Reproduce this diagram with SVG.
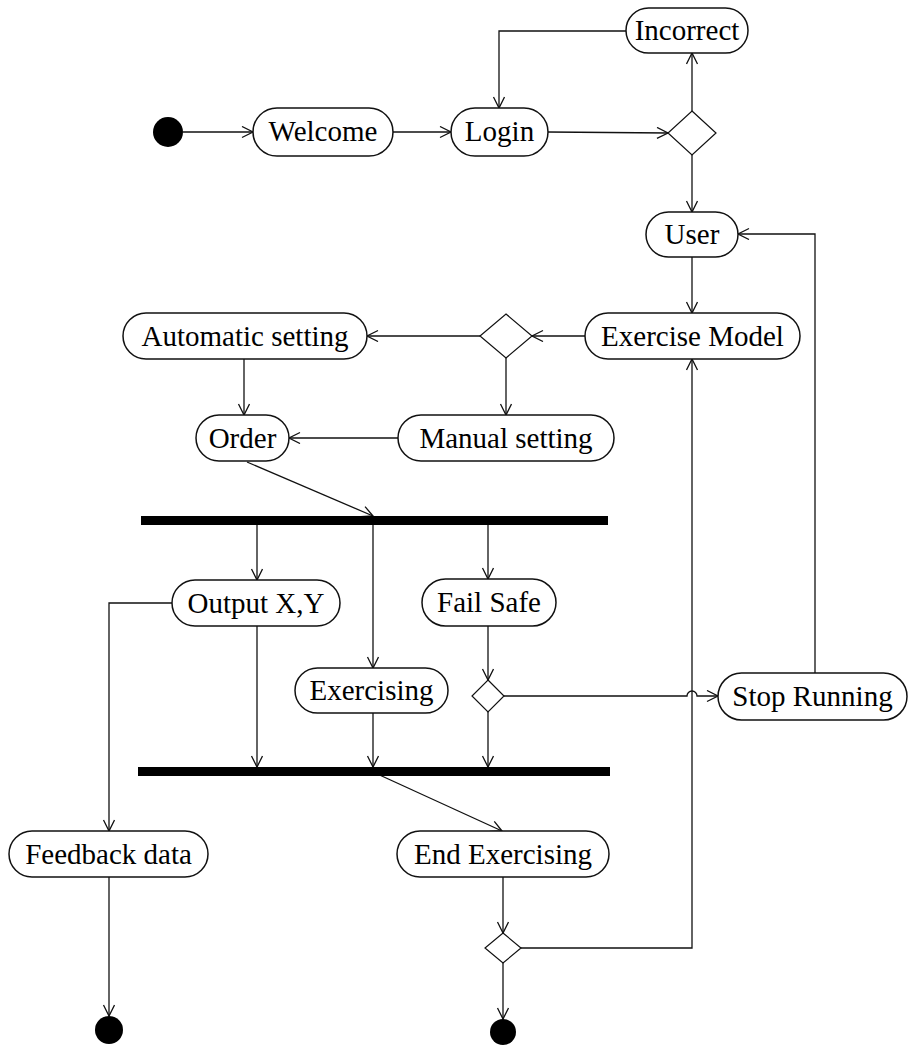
<svg xmlns="http://www.w3.org/2000/svg" width="908" height="1047" viewBox="0 0 908 1047">
  <style>
    .node { fill: #fff; stroke: #111; stroke-width: 1.5; }
    .dec { fill: #fff; stroke: #111; stroke-width: 1.2; }
    .bar { fill: #000; }
    .dot { fill: #000; }
    .lbl { font-family: "Liberation Serif", "Times New Roman", serif; font-size: 29px; fill: #000; text-anchor: middle; }
    .edge { fill: none; stroke: #111; stroke-width: 1.3; marker-end: url(#open); }
    .plain { fill: none; stroke: #111; stroke-width: 1.3; }
  </style>
  <defs>
    <marker id="open" markerUnits="userSpaceOnUse" markerWidth="14" markerHeight="14" refX="12" refY="6" orient="auto">
      <path d="M1,0.5 L12,6 L1,11.5" fill="none" stroke="#111" stroke-width="1.3"/>
    </marker>
  </defs>

  <!-- connectors -->
  <g id="connectors">
    <line class="edge" x1="183" y1="132" x2="253" y2="132"/>
    <line class="edge" x1="393" y1="132" x2="451" y2="132"/>
    <line class="edge" x1="548" y1="132" x2="668" y2="133"/>
    <line class="edge" x1="692" y1="111" x2="692" y2="53"/>
    <polyline class="edge" points="626,31 499,31 499,108"/>
    <line class="edge" x1="692" y1="155" x2="692" y2="212"/>
    <line class="edge" x1="692" y1="257" x2="692" y2="313"/>
    <polyline class="edge" points="815,673 815,234 738,234"/>
    <line class="edge" x1="585" y1="336" x2="532" y2="336"/>
    <line class="edge" x1="480" y1="336" x2="367" y2="336"/>
    <line class="edge" x1="506" y1="358" x2="506" y2="415"/>
    <line class="edge" x1="244" y1="359" x2="244" y2="415"/>
    <line class="edge" x1="398" y1="438" x2="289" y2="438"/>
    <line class="edge" x1="247" y1="462" x2="373" y2="516"/>
    <line class="edge" x1="257" y1="525" x2="257" y2="580"/>
    <line class="edge" x1="373" y1="525" x2="373" y2="668"/>
    <line class="edge" x1="488" y1="525" x2="488" y2="579"/>
    <polyline class="edge" points="172,603 109,603 109,831"/>
    <line class="edge" x1="257" y1="626" x2="257" y2="767"/>
    <line class="edge" x1="373" y1="713" x2="373" y2="767"/>
    <line class="edge" x1="488" y1="626" x2="488" y2="680"/>
    <line class="edge" x1="488" y1="712" x2="488" y2="767"/>
    <path class="edge" d="M504,696 L687,696 A5,5 0 0 1 697,696 L718,696"/>
    <line class="edge" x1="373" y1="772" x2="502" y2="831"/>
    <line class="edge" x1="503" y1="877" x2="503" y2="933"/>
    <polyline class="edge" points="521,948 692,948 692,359"/>
    <line class="edge" x1="503" y1="963" x2="503" y2="1019"/>
    <line class="edge" x1="109" y1="877" x2="109" y2="1016"/>
  </g>

  <!-- nodes -->
  <g id="start"><circle class="dot" cx="168" cy="132" r="15"/></g>
  <g id="welcome">
    <rect class="node" x="253" y="108" width="140" height="48" rx="24"/>
    <text class="lbl" x="323" y="141">Welcome</text>
  </g>
  <g id="login">
    <rect class="node" x="451" y="108" width="97" height="48" rx="24"/>
    <text class="lbl" x="499.5" y="141">Login</text>
  </g>
  <g id="incorrect">
    <rect class="node" x="626" y="8" width="122" height="45" rx="22.5"/>
    <text class="lbl" x="687" y="40">Incorrect</text>
  </g>
  <g id="login-check"><polygon class="dec" points="692,111 716,133 692,155 668,133"/></g>
  <g id="user">
    <rect class="node" x="646" y="212" width="92" height="45" rx="22.5"/>
    <text class="lbl" x="692" y="244">User</text>
  </g>
  <g id="exercise-model">
    <rect class="node" x="585" y="313" width="215" height="46" rx="23"/>
    <text class="lbl" x="692.5" y="346">Exercise Model</text>
  </g>
  <g id="mode-choice"><polygon class="dec" points="506,314 532,336 506,358 480,336"/></g>
  <g id="automatic-setting">
    <rect class="node" x="123" y="313" width="244" height="46" rx="23"/>
    <text class="lbl" x="245" y="346">Automatic setting</text>
  </g>
  <g id="manual-setting">
    <rect class="node" x="398" y="415" width="216" height="46" rx="23"/>
    <text class="lbl" x="506" y="448">Manual setting</text>
  </g>
  <g id="order">
    <rect class="node" x="196" y="415" width="93" height="46" rx="23"/>
    <text class="lbl" x="242.5" y="448">Order</text>
  </g>
  <g id="fork"><rect class="bar" x="141" y="516" width="467" height="9"/></g>
  <g id="output-xy">
    <rect class="node" x="172" y="580" width="168" height="46" rx="23"/>
    <text class="lbl" x="256" y="613">Output X,Y</text>
  </g>
  <g id="fail-safe">
    <rect class="node" x="422" y="579" width="134" height="47" rx="23.5"/>
    <text class="lbl" x="489" y="612">Fail Safe</text>
  </g>
  <g id="exercising">
    <rect class="node" x="295" y="668" width="153" height="45" rx="22.5"/>
    <text class="lbl" x="371.5" y="700">Exercising</text>
  </g>
  <g id="safety-check"><polygon class="dec" points="488,680 504,696 488,712 472,696"/></g>
  <g id="stop-running">
    <rect class="node" x="718" y="673" width="189" height="47" rx="23.5"/>
    <text class="lbl" x="812.5" y="706">Stop Running</text>
  </g>
  <g id="join"><rect class="bar" x="138" y="767" width="472" height="9"/></g>
  <g id="feedback-data">
    <rect class="node" x="9" y="831" width="199" height="46" rx="23"/>
    <text class="lbl" x="108.5" y="864">Feedback data</text>
  </g>
  <g id="end-exercising">
    <rect class="node" x="397" y="831" width="212" height="46" rx="23"/>
    <text class="lbl" x="503" y="864">End Exercising</text>
  </g>
  <g id="repeat-check"><polygon class="dec" points="503,933 521,948 503,963 485,948"/></g>
  <g id="end-feedback"><circle class="dot" cx="109" cy="1030" r="14"/></g>
  <g id="end-exercise"><circle class="dot" cx="503" cy="1032" r="13"/></g>
</svg>
